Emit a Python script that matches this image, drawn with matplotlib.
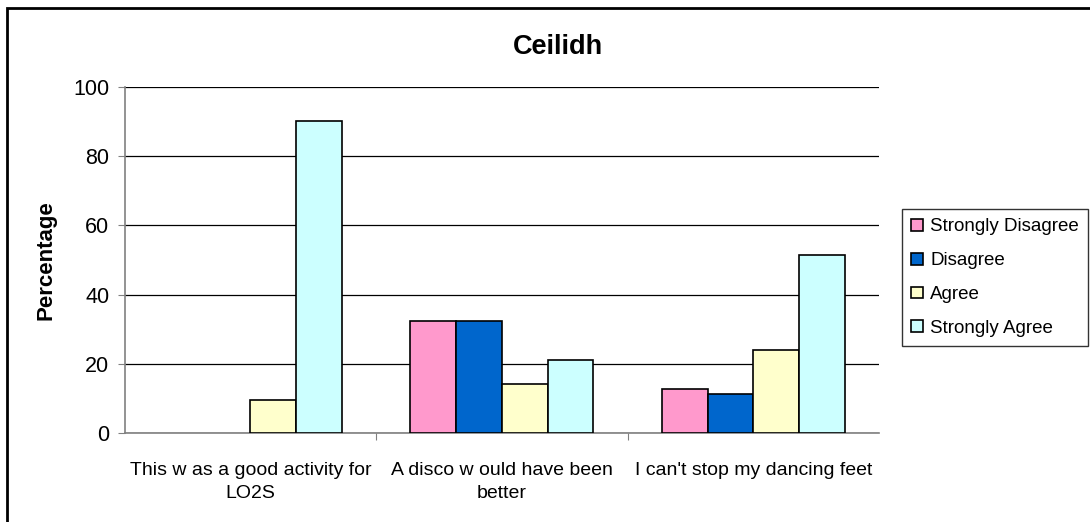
import numpy as np
import matplotlib
matplotlib.use("Agg")
import matplotlib.pyplot as plt
from matplotlib.patches import Rectangle

plt.rcParams['font.family'] = ['Liberation Sans', 'DejaVu Sans']

# data
categories = ["This w as a good activity for\nLO2S",
              "A disco w ould have been\nbetter",
              "I can't stop my dancing feet"]
series = ["Strongly Disagree", "Disagree", "Agree", "Strongly Agree"]
strongly_disagree = [0, 32.4, 12.6]
disagree = [0, 32.4, 11.2]
agree = [9.5, 14.3, 24.1]
strongly_agree = [90.3, 21.0, 51.5]
colors = ["#FF99CC", "#0066CC", "#FFFFCC", "#CCFFFF"]

values = [strongly_disagree, disagree, agree, strongly_agree]

fig = plt.figure(figsize=(10.9, 5.22), dpi=100)
ax = fig.add_axes([0.1144, 0.1705, 0.6920, 0.6628])

x = np.arange(len(categories))
w = 1 / 5.5  # excel gap width 150%
for i, (name, vals, col) in enumerate(zip(series, values, colors)):
    pos = x + (i - 1.5) * w
    h = np.array(vals)
    mask = h > 0
    ax.bar(pos[mask], h[mask], width=w, color=col, edgecolor="black",
           linewidth=1.2, label=name, zorder=3)

ax.set_xlim(-0.5, 2.5)
ax.set_ylim(0, 100)
ax.set_yticks(range(0, 101, 20))
ax.yaxis.grid(True, color="black", linewidth=0.9, zorder=0)
ax.set_axisbelow(True)

ax.set_xticks([0.5, 1.5], minor=False)
ax.set_xticklabels([])
ax.set_xticks(x, minor=True)
ax.set_xticklabels(categories, minor=True, fontsize=14, linespacing=1.45)
ax.tick_params(axis="x", which="minor", length=0, pad=21)
ax.tick_params(axis="x", which="major", length=5, color="#808080")
ax.tick_params(axis="y", length=5, color="#808080", labelsize=15.5, pad=6)

for s in ["top", "right"]:
    ax.spines[s].set_visible(False)
for s in ["left", "bottom"]:
    ax.spines[s].set_color("#808080")
    ax.spines[s].set_linewidth(1.2)

ax.set_ylabel("Percentage", fontsize=16, fontweight="bold", labelpad=12)
fig.text(0.512, 0.91, "Ceilidh", fontsize=19.5, fontweight="bold",
         ha="center", va="center")

leg = ax.legend(loc="center left", bbox_to_anchor=(0.8275, 0.468),
                bbox_transform=fig.transFigure, fontsize=13.5,
                frameon=True, fancybox=False, edgecolor="black",
                handlelength=0.6, handleheight=0.6, handletextpad=0.4,
                labelspacing=0.9, borderpad=0.5, borderaxespad=0)
leg.get_frame().set_linewidth(1.0)

# chart area border
fig.patches.append(Rectangle((7 / 1090, -0.1), 1.2, (522 - 8) / 522 + 0.1,
                             transform=fig.transFigure, fill=False,
                             edgecolor="black", linewidth=2))

fig.savefig("out.png", dpi=100)
